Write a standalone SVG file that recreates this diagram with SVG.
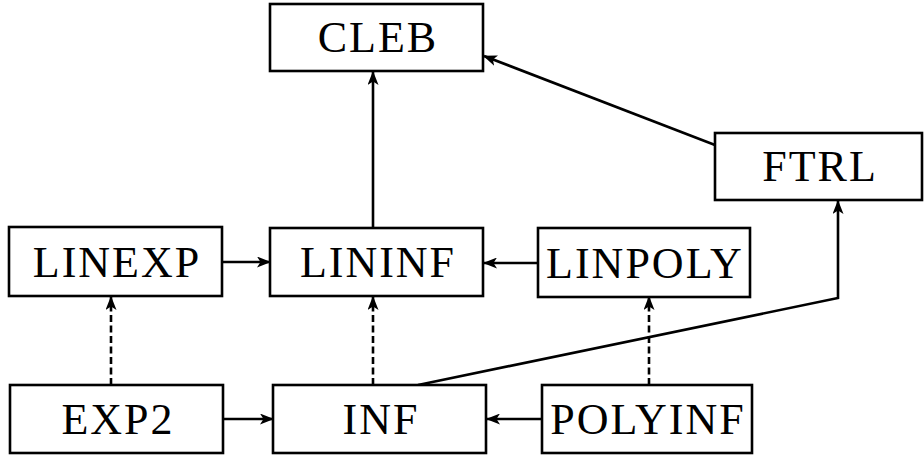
<svg xmlns="http://www.w3.org/2000/svg" width="924" height="457" viewBox="0 0 924 457">
<defs>
<marker id="ah" viewBox="0 0 14 11" refX="13" refY="5.5" markerWidth="14" markerHeight="11" markerUnits="userSpaceOnUse" orient="auto">
<path d="M0,0 L14,5.5 L0,11 L3.5,5.5 Z" fill="#000"/>
</marker>
</defs>
<style>
.box{fill:#fff;stroke:#000;stroke-width:2.6}
.lbl{font-family:"Liberation Serif","DejaVu Serif",serif;font-size:44px;text-anchor:middle;fill:#000;letter-spacing:2px}
.e{fill:none;stroke:#000;stroke-width:2.6;marker-end:url(#ah)}
.d{stroke-dasharray:7,3.5}
</style>
<rect width="924" height="457" fill="#fff"/>
<g id="edges">
<path class="e" d="M373,228 L373,72"/>
<path class="e" d="M715,145 L484,56"/>
<path class="e" d="M222,262 L270,262"/>
<path class="e" d="M538,263 L484,263"/>
<path class="e" d="M223,419 L273,419"/>
<path class="e" d="M542,419 L487,419"/>
<path class="e d" d="M111,385 L111,297"/>
<path class="e d" d="M373,385 L373,297"/>
<path class="e d" d="M649,385 L649,297"/>
<path class="e" d="M418,385 L838,298 L838,201"/>
</g>
<g id="CLEB"><rect class="box" x="270" y="4" width="213" height="67"/><text class="lbl" x="378" y="52">CLEB</text></g>
<g id="FTRL"><rect class="box" x="715" y="133" width="207" height="67"/><text class="lbl" x="820" y="181">FTRL</text></g>
<g id="LINEXP"><rect class="box" x="9" y="227" width="213" height="69"/><text class="lbl" x="117" y="277">LINEXP</text></g>
<g id="LININF"><rect class="box" x="270" y="228" width="213" height="68"/><text class="lbl" x="378" y="277">LININF</text></g>
<g id="LINPOLY"><rect class="box" x="538" y="228" width="212" height="69"/><text class="lbl" x="645" y="278">LINPOLY</text></g>
<g id="EXP2"><rect class="box" x="10" y="385" width="213" height="68"/><text class="lbl" x="118" y="434">EXP2</text></g>
<g id="INF"><rect class="box" x="273" y="385" width="213" height="68"/><text class="lbl" x="381" y="434">INF</text></g>
<g id="POLYINF"><rect class="box" x="542" y="385" width="210" height="68"/><text class="lbl" x="648" y="434">POLYINF</text></g>
</svg>
